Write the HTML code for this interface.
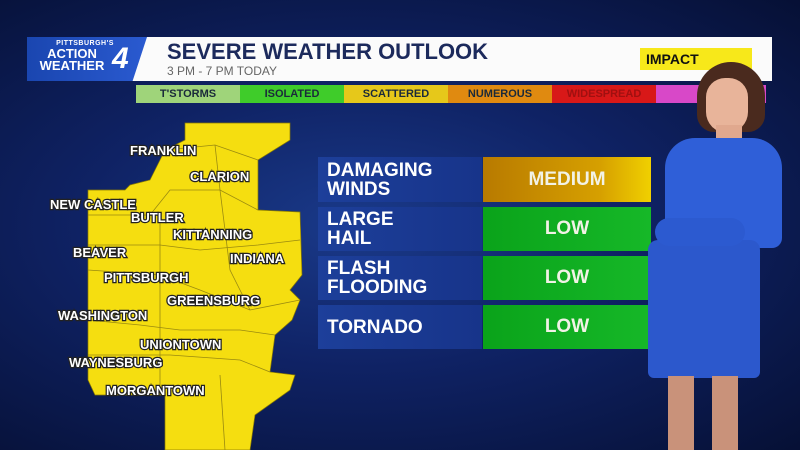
<!DOCTYPE html>
<html><head><style>
body{margin:0;width:800px;height:450px;overflow:hidden;background:#0d1a4a;font-family:"Liberation Sans",sans-serif;}
.bg{position:absolute;inset:0;background:radial-gradient(ellipse at 45% 50%,#1a3a8a 0%,#0f2264 45%,#061035 100%);}
.abs{position:absolute}
.row{position:absolute;left:318px;width:333px;height:44px;}
.lab{position:absolute;left:0;top:0;width:164px;height:100%;background:linear-gradient(90deg,#1d3f9a,#17348a);color:#fff;font-weight:bold;font-size:19px;line-height:19px;padding-left:9px;box-sizing:border-box;display:flex;align-items:center;}
.val{position:absolute;left:165px;top:0;right:0;height:100%;color:#f2f2e6;font-weight:bold;font-size:19px;display:flex;align-items:center;justify-content:center;}
.g{background:linear-gradient(90deg,#0aa31a,#16b828)}
.m{background:linear-gradient(90deg,#b87a00,#d6a000 70%,#f0d000)}
.map text{font:bold 13px "Liberation Sans",sans-serif;fill:#fff;stroke:#222;stroke-width:2.5px;paint-order:stroke}
.leg div{position:absolute;top:0;height:18px;font-size:11px;font-weight:bold;line-height:18px;text-align:center;color:#1a2a3a}
</style></head><body>
<div class="bg"></div>
<div class="abs" style="left:27px;top:37px;width:745px;height:44px;background:#fbfbfb"></div>
<div class="abs" style="left:27px;top:37px;width:120px;height:44px;background:linear-gradient(90deg,#1a46b0,#2a5ad0);clip-path:polygon(0 0,100% 0,88% 100%,0 100%)"></div>
<div class="abs" style="left:30px;top:40px;width:110px;color:#fff;font-weight:bold;font-size:7px;text-align:center;letter-spacing:0.5px">PITTSBURGH'S</div>
<div class="abs" style="left:22px;top:48px;width:100px;color:#fff;font-weight:bold;font-size:13px;line-height:12px;text-align:center">ACTION<br>WEATHER</div>
<div class="abs" style="left:112px;top:44px;color:#fff;font-weight:bold;font-size:30px;line-height:30px;font-style:italic">4</div>
<div class="abs" style="left:167px;top:40px;color:#1c2a5c;font-weight:bold;font-size:22px;line-height:24px">SEVERE WEATHER OUTLOOK</div>
<div class="abs" style="left:167px;top:64px;color:#666;font-size:12px">3 PM - 7 PM TODAY</div>
<div class="abs" style="left:640px;top:48px;width:112px;height:22px;background:#f7e81a;color:#111;font-weight:bold;font-size:14px;line-height:22px;padding-left:6px;box-sizing:border-box">IMPACT</div>
<div class="leg abs" style="left:136px;top:85px;width:630px;height:18px">
<div style="left:0;width:104px;background:#9fd47a">T'STORMS</div>
<div style="left:104px;width:104px;background:#3fcc2a">ISOLATED</div>
<div style="left:208px;width:104px;background:#e6c81a">SCATTERED</div>
<div style="left:312px;width:104px;background:#e08a10">NUMEROUS</div>
<div style="left:416px;width:104px;background:#d81818;color:#a01010">WIDESPREAD</div>
<div style="left:520px;width:110px;background:#d848c8"></div>
</div>
<svg class="abs map" style="left:0;top:0" width="800" height="450">
<polygon fill="#f5de10" stroke="#8a7a00" stroke-width="0.7" points="185,123 290,123 290,140 258,160 258,210 300,212 302,275 290,290 300,300 292,320 275,335 270,372 295,375 290,390 255,415 250,450 165,450 165,395 95,395 88,380 88,190 125,190 130,185 150,180 165,150 185,140"/>
<g fill="none" stroke="#9a8a10" stroke-width="0.8">
<path d="M88,215 L150,215 L170,190 L220,190 L258,210"/><path d="M165,150 L215,145 L258,160"/><path d="M88,245 L160,245 L200,250 L258,245 L300,240"/>
<path d="M88,270 L160,275 L200,290 L250,310 L300,300"/><path d="M88,320 L140,325 L180,330 L240,330 L275,335"/><path d="M88,355 L170,355 L240,360 L270,372"/>
<path d="M160,215 L160,390"/><path d="M220,190 L230,270 L250,310"/><path d="M215,145 L220,190"/><path d="M220,375 L225,450"/>
</g>
<text x="130" y="155">FRANKLIN</text><text x="190" y="181">CLARION</text><text x="50" y="209">NEW CASTLE</text>
<text x="131" y="222">BUTLER</text><text x="173" y="239">KITTANNING</text><text x="73" y="257">BEAVER</text>
<text x="230" y="263">INDIANA</text><text x="104" y="282">PITTSBURGH</text><text x="167" y="305">GREENSBURG</text>
<text x="58" y="320">WASHINGTON</text><text x="140" y="349">UNIONTOWN</text><text x="69" y="367">WAYNESBURG</text>
<text x="106" y="395">MORGANTOWN</text>
</svg>
<div class="row" style="top:157px;height:45px"><div class="lab">DAMAGING<br>WINDS</div><div class="val m">MEDIUM</div></div>
<div class="row" style="top:207px"><div class="lab">LARGE<br>HAIL</div><div class="val g">LOW</div></div>
<div class="row" style="top:256px"><div class="lab">FLASH<br>FLOODING</div><div class="val g">LOW</div></div>
<div class="row" style="top:305px"><div class="lab">TORNADO</div><div class="val g">LOW</div></div>
<div class="abs" style="left:697px;top:62px;width:68px;height:70px;border-radius:40px 40px 20px 20px;background:#4a2a1e"></div>
<div class="abs" style="left:706px;top:78px;width:42px;height:55px;border-radius:20px 20px 22px 22px;background:#e8b49a"></div>
<div class="abs" style="left:716px;top:125px;width:26px;height:22px;background:#e0a88e"></div>
<div class="abs" style="left:665px;top:138px;width:117px;height:110px;border-radius:30px 30px 10px 10px;background:#2f5fd8"></div>
<div class="abs" style="left:648px;top:240px;width:112px;height:138px;border-radius:10px 10px 6px 6px;background:#2c58cc"></div>
<div class="abs" style="left:655px;top:218px;width:90px;height:28px;border-radius:15px;background:#2c5ad0"></div>
<div class="abs" style="left:668px;top:376px;width:26px;height:74px;background:#c9927a"></div>
<div class="abs" style="left:712px;top:376px;width:26px;height:74px;background:#c9927a"></div>
</body></html>
